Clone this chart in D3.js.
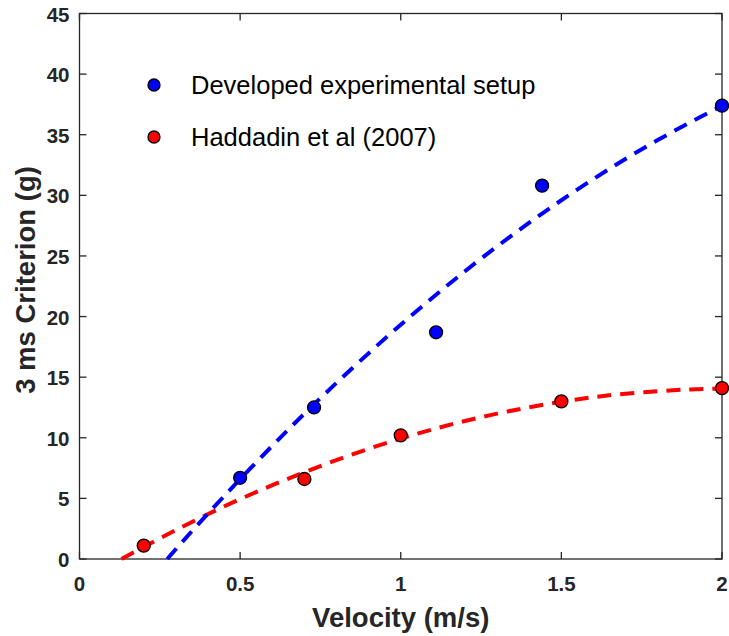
<!DOCTYPE html>
<html lang="en">
<head>
<meta charset="UTF-8">
<title>3 ms Criterion vs Velocity</title>
<script src="https://cdnjs.cloudflare.com/ajax/libs/d3/7.8.5/d3.min.js"></script>
<style>
  body { margin: 0; background: #fff; }
  svg { display: block; font-family: Arial, "Liberation Sans", sans-serif; }
  .tick-label { font-size: 20.5px; font-weight: bold; fill: #262626; }
  .axis-title { font-size: 27.5px; font-weight: bold; fill: #262626; }
  .legend-text { font-size: 25.5px; fill: #000; }
</style>
</head>
<body>
<svg id="chart" width="729" height="636"></svg>
<script>
// measured points
const blueVelocity = [0.5, 0.73, 1.11, 1.44, 2.0];
const blueCriterion = [6.7, 12.5, 18.7, 30.8, 37.4];
const redVelocity = [0.2, 0.7, 1.0, 1.5, 2.0];
const redCriterion = [1.1, 6.6, 10.2, 13.0, 14.1];

// dashed trend lines
const blueFitX = [0.273, 0.4, 0.6, 0.8, 1.0, 1.2, 1.4, 1.6, 1.8, 2.0];
const blueFitY = [0, 3.75, 9.34, 14.53, 19.33, 23.74, 27.74, 31.35, 34.56, 37.39];
const redFitX = [0.131, 0.3, 0.5, 0.7, 0.9, 1.1, 1.3, 1.5, 1.7, 1.9, 2.0];
const redFitY = [0, 2.39, 4.94, 7.16, 9.09, 10.7, 11.99, 12.97, 13.64, 13.99, 14.05];

const xTicks = [0, 0.5, 1, 1.5, 2];
const yTicks = [0, 5, 10, 15, 20, 25, 30, 35, 40, 45];
const legendLabels = ["Developed experimental setup", "Haddadin et al (2007)"];

const svg = d3.select("#chart");
const plotL = 79.5, plotR = 722, plotT = 13.5, plotB = 559;

const x = d3.scaleLinear().domain([0, 2]).range([plotL, plotR]);
const y = d3.scaleLinear().domain([0, 45]).range([plotB, plotT]);

const axisColor = "#262626";
const tickLen = 7;

// box
svg.append("rect")
  .attr("x", plotL).attr("y", plotT)
  .attr("width", plotR - plotL).attr("height", plotB - plotT)
  .attr("fill", "none").attr("stroke", axisColor).attr("stroke-width", 1.3);

// ticks (inward, mirrored)
xTicks.forEach(t => {
  svg.append("line").attr("x1", x(t)).attr("x2", x(t))
    .attr("y1", plotB).attr("y2", plotB - tickLen)
    .attr("stroke", axisColor).attr("stroke-width", 1.3);
  svg.append("line").attr("x1", x(t)).attr("x2", x(t))
    .attr("y1", plotT).attr("y2", plotT + tickLen)
    .attr("stroke", axisColor).attr("stroke-width", 1.3);
  svg.append("text").attr("class", "tick-label")
    .attr("x", x(t)).attr("y", plotB + 32)
    .attr("text-anchor", "middle")
    .text(t);
});

yTicks.forEach(t => {
  svg.append("line").attr("x1", plotL).attr("x2", plotL + tickLen)
    .attr("y1", y(t)).attr("y2", y(t))
    .attr("stroke", axisColor).attr("stroke-width", 1.3);
  svg.append("line").attr("x1", plotR).attr("x2", plotR - tickLen)
    .attr("y1", y(t)).attr("y2", y(t))
    .attr("stroke", axisColor).attr("stroke-width", 1.3);
  svg.append("text").attr("class", "tick-label")
    .attr("x", plotL - 10).attr("y", y(t) + 8)
    .attr("text-anchor", "end")
    .text(t);
});

// axis titles
svg.append("text").attr("class", "axis-title")
  .attr("x", (plotL + plotR) / 2).attr("y", 627)
  .attr("text-anchor", "middle")
  .text("Velocity (m/s)");

svg.append("text").attr("class", "axis-title")
  .attr("transform", "translate(35," + 280 + ") rotate(-90)")
  .attr("text-anchor", "middle")
  .text("3 ms Criterion (g)");

// fit lines
const line = d3.line()
  .x(d => x(d[0]))
  .y(d => y(d[1]))
  .curve(d3.curveNatural);

svg.append("path")
  .datum(d3.zip(redFitX, redFitY))
  .attr("d", line)
  .attr("fill", "none").attr("stroke", "#ff0000")
  .attr("stroke-width", 4).attr("stroke-dasharray", "14 9");

svg.append("path")
  .datum(d3.zip(blueFitX, blueFitY))
  .attr("d", line)
  .attr("fill", "none").attr("stroke", "#0000ff")
  .attr("stroke-width", 4).attr("stroke-dasharray", "14 9");

// markers
svg.selectAll(".blue-pt")
  .data(d3.zip(blueVelocity, blueCriterion))
  .enter().append("circle")
  .attr("class", "blue-pt")
  .attr("cx", d => x(d[0])).attr("cy", d => y(d[1]))
  .attr("r", 6.5)
  .attr("fill", "#0000ff").attr("stroke", "#000").attr("stroke-width", 1.3);

svg.selectAll(".red-pt")
  .data(d3.zip(redVelocity, redCriterion))
  .enter().append("circle")
  .attr("class", "red-pt")
  .attr("cx", d => x(d[0])).attr("cy", d => y(d[1]))
  .attr("r", 6.5)
  .attr("fill", "#ff0000").attr("stroke", "#000").attr("stroke-width", 1.3);

// legend
const legendColors = ["#0000ff", "#ff0000"];
legendLabels.forEach((label, i) => {
  const ly = 85 + i * 52;
  svg.append("circle")
    .attr("cx", 154).attr("cy", ly).attr("r", 6)
    .attr("fill", legendColors[i]).attr("stroke", "#000").attr("stroke-width", 1.3);
  svg.append("text").attr("class", "legend-text")
    .attr("x", 191).attr("y", ly + 9)
    .text(label);
});
</script>
</body>
</html>
